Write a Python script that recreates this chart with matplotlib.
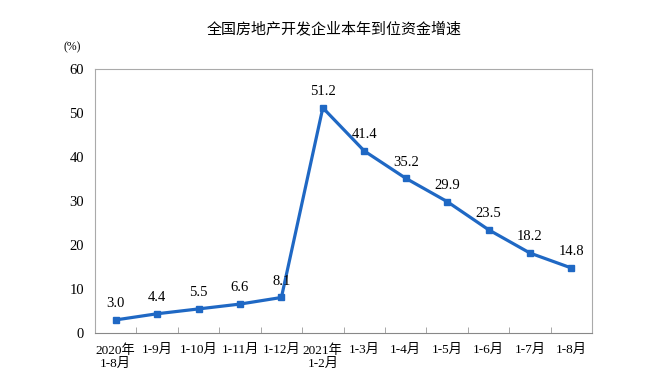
import numpy as np
import matplotlib.pyplot as plt

plt.rcParams['font.family'] = ['Liberation Serif', 'Noto Sans CJK SC']

# data
months = ['2020年\n1-8月', '1-9月', '1-10月', '1-11月', '1-12月', '2021年\n1-2月',
          '1-3月', '1-4月', '1-5月', '1-6月', '1-7月', '1-8月']
growth = [3.0, 4.4, 5.5, 6.6, 8.1, 51.2, 41.4, 35.2, 29.9, 23.5, 18.2, 14.8]

blue = '#1f68c4'
x = np.arange(len(months))

fig = plt.figure(figsize=(6.69, 3.86), dpi=100)
ax = fig.add_axes([0.142, 0.137, 0.743, 0.684])

ax.plot(x, growth, color=blue, lw=2.3, marker='s', ms=4.5, zorder=3)
for xi, v in zip(x, growth):
    ax.annotate(f'{v:.1f}', (xi, v), xytext=(0, 7), textcoords='offset points',
                ha='center', va='bottom', fontsize=10.5)

ax.set_xlim(-0.5, len(months) - 0.5)
ax.set_ylim(0, 60)
ax.set_yticks(range(0, 61, 10))
ax.set_xticks(x)
ax.set_xticklabels(months, fontsize=9.5, linespacing=1.1)
ax.set_xticks(np.arange(0.5, len(months) - 1, 1), minor=True)
ax.tick_params(axis='x', which='major', length=0, pad=8)
ax.tick_params(axis='x', which='minor', direction='in', length=4, color='#999999')
ax.tick_params(axis='y', length=0, labelsize=10.5, pad=8)

for s in ax.spines.values():
    s.set_color('#aaaaaa')
    s.set_linewidth(0.8)
ax.spines['bottom'].set_color('#888888')

fig.text(0.5, 0.925, '全国房地产开发企业本年到位资金增速', ha='center', va='center', fontsize=10.8)
fig.text(0.108, 0.878, '(%)', ha='center', va='center', fontsize=8.5)

fig.savefig('out.png', dpi=100)
